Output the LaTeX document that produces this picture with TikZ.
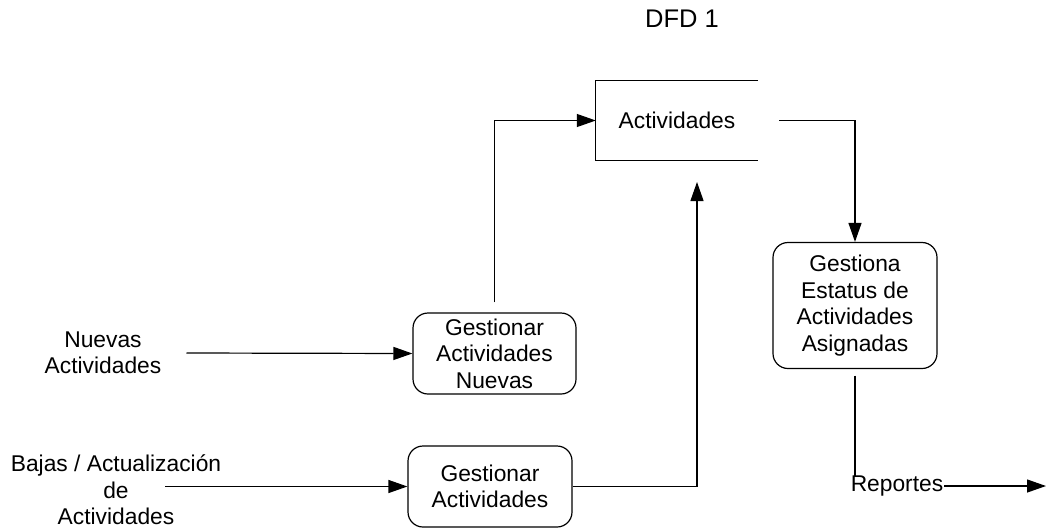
\documentclass[tikz,border=0pt]{standalone}
\usepackage{fontspec}
\setmainfont{Liberation Sans}
\usetikzlibrary{arrows.meta}
\begin{document}
\begin{tikzpicture}[x=1pt,y=-1pt,
  every node/.style={font=\fontsize{22.8}{26.5}\selectfont, align=center, inner sep=0pt},
  proc/.style={draw, line width=1.2pt, rounded corners=15pt, minimum width=#1},
  flow/.style={-{Triangle[length=19pt,width=13pt]}, line width=1.2pt},
  plain/.style={line width=1.2pt}]
  \useasboundingbox (0,0) rectangle (1046,530);

  % title
  \node (title) at (682,19) {\fontsize{25.5}{28}\selectfont DFD 1};

  % data store (open on the right)
  \node[minimum width=162pt, minimum height=80pt] (store) at (677,120.5) {Actividades};
  \draw[plain] (store.north east) -- (store.north west) -- (store.south west) -- (store.south east);

  % processes
  \node[proc=163pt, minimum height=81pt] (b1) at (494.5,353.5) {Gestionar\\Actividades\\Nuevas};
  \node[proc=164pt, minimum height=81pt] (b2) at (490,486.5) {Gestionar\\Actividades};
  \node[proc=164pt, minimum height=126pt] (b3) at (855,305.5) {Gestiona\\Estatus de\\Actividades\\Asignadas};

  % external entities / data flows
  \node (nuevas) at (103,353) {Nuevas\\Actividades};
  \node (bajas) at (116,490) {Bajas / Actualización\\de\\Actividades};
  \node (rep) at (897,486) {Reportes};

  \coordinate (bin) at (165,486.5);
  \coordinate (s2) at (697,182);
  \coordinate (out) at (1046,486);

  % connectors
  \draw[flow] ([xshift=25pt]nuevas.east) -- (b1.west);
  \draw[flow] (bin) -- (b2.west);
  \draw[flow] ([yshift=10pt]b1.north) |- (store.west);
  \draw[flow] (b2.east) -| (s2);
  \draw[flow] ([xshift=21pt]store.east) -| (b3.north);
  \draw[plain] ([yshift=-6.5pt]b3.south) -- (b3.south |- rep.north);
  \draw[flow] ([xshift=1pt]rep.east) -- (out);
\end{tikzpicture}
\end{document}
